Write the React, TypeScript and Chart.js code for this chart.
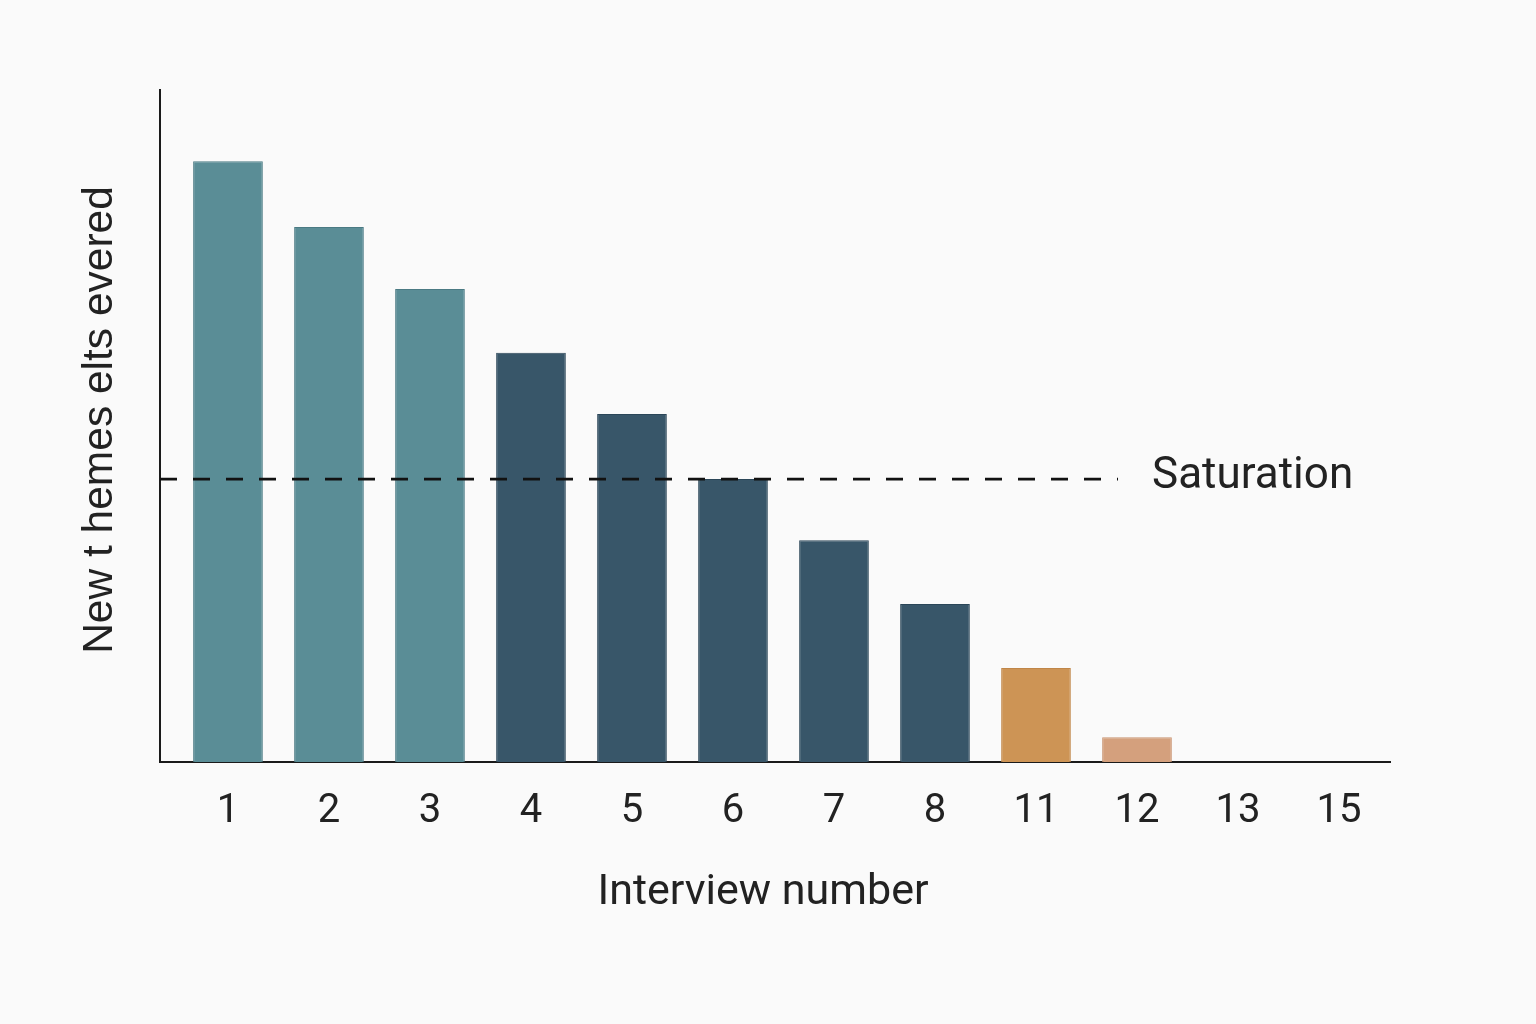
import { useEffect, useRef } from "react"
import { Chart, registerables } from "chart.js"

Chart.register(...registerables)

// interview labels and new themes per interview
const interviews = ["1", "2", "3", "4", "5", "6", "7", "8", "11", "12", "13", "15"]
const newThemes = [8.94, 7.96, 7.04, 6.09, 5.18, 4.21, 3.3, 2.35, 1.4, 0.37, 0, 0]
const phase = ["early", "early", "early", "mid", "mid", "mid", "mid", "mid", "late", "tail", "tail", "tail"]
const saturationLevel = 4.21

const fills: Record<string, string> = {
    early: "#5a8d96",
    mid: "#385669",
    late: "#cd9455",
    tail: "#d4a07d",
}
const borders: Record<string, string> = {
    early: "#4a7a83",
    mid: "#2b4658",
    late: "#c08648",
    tail: "#c99370",
}

const textColor = "#222222"

const overlay = {
    id: "overlay",
    afterDatasetsDraw(chart: any) {
        const { ctx, chartArea, scales } = chart
        const y = scales.y.getPixelForValue(saturationLevel)
        ctx.save()
        // saturation line
        ctx.strokeStyle = "#111111"
        ctx.lineWidth = 2.6
        ctx.setLineDash([17, 16])
        ctx.beginPath()
        ctx.moveTo(chartArea.left, y)
        ctx.lineTo(1118, y)
        ctx.stroke()
        ctx.setLineDash([])

        ctx.fillStyle = textColor
        ctx.font = "44px Roboto"
        ctx.textAlign = "left"
        ctx.textBaseline = "middle"
        ctx.fillText("Saturation", 1152, y - 2)

        // x title
        ctx.font = "43px Roboto"
        ctx.textAlign = "center"
        ctx.fillText("Interview number", 763, 893)

        // y title
        ctx.translate(100, 420)
        ctx.rotate(-Math.PI / 2)
        ctx.font = "42.5px 'Liberation Sans'"
        ctx.fillText("New t hemes elts evered", 0, 0)
        ctx.restore()
    },
}

export default function App() {
    const canvasRef = useRef<HTMLCanvasElement>(null)

    useEffect(() => {
        if (!canvasRef.current) return
        const chart = new Chart(canvasRef.current, {
            type: "bar",
            data: {
                datasets: [
                    {
                        data: newThemes.map((v, i) => ({ x: i, y: v })),
                        backgroundColor: phase.map((p) => fills[p]),
                        borderColor: phase.map((p) => borders[p]),
                        borderWidth: 1,
                        barPercentage: 0.69,
                        categoryPercentage: 1,
                    },
                ],
            },
            options: {
                responsive: true,
                maintainAspectRatio: false,
                animation: false,
                layout: { padding: { top: 90, right: 146, left: 0, bottom: 0 } },
                plugins: {
                    legend: { display: false },
                    tooltip: { enabled: false },
                },
                scales: {
                    x: {
                        type: "linear",
                        offset: false,
                        min: -0.673,
                        max: 11.505,
                        grid: { display: false, drawTicks: false },
                        border: { display: true, color: "#1a1a1a", width: 2 },
                        afterBuildTicks: (axis: any) => {
                            axis.ticks = interviews.map((_, i) => ({ value: i }))
                        },
                        afterFit: (axis: any) => {
                            axis.height = 262
                        },
                        ticks: {
                            padding: 26,
                            color: textColor,
                            font: { family: "Roboto", size: 40 },
                            callback: (v: any) => interviews[Number(v)] ?? "",
                        },
                    },
                    y: {
                        min: 0,
                        max: 10,
                        grid: { display: false, drawTicks: false },
                        border: { display: true, color: "#1a1a1a", width: 2 },
                        ticks: { display: false },
                        afterFit: (axis: any) => {
                            axis.width = 160
                        },
                    },
                },
            },
            plugins: [overlay],
        })
        return () => {
            chart.destroy()
        }
    }, [])

    return (
        <div
            style={{
                position: "fixed",
                left: 0,
                top: 0,
                width: 1536,
                height: 1024,
                background: "#fafafa",
            }}
        >
            <canvas ref={canvasRef}></canvas>
        </div>
    )
}
